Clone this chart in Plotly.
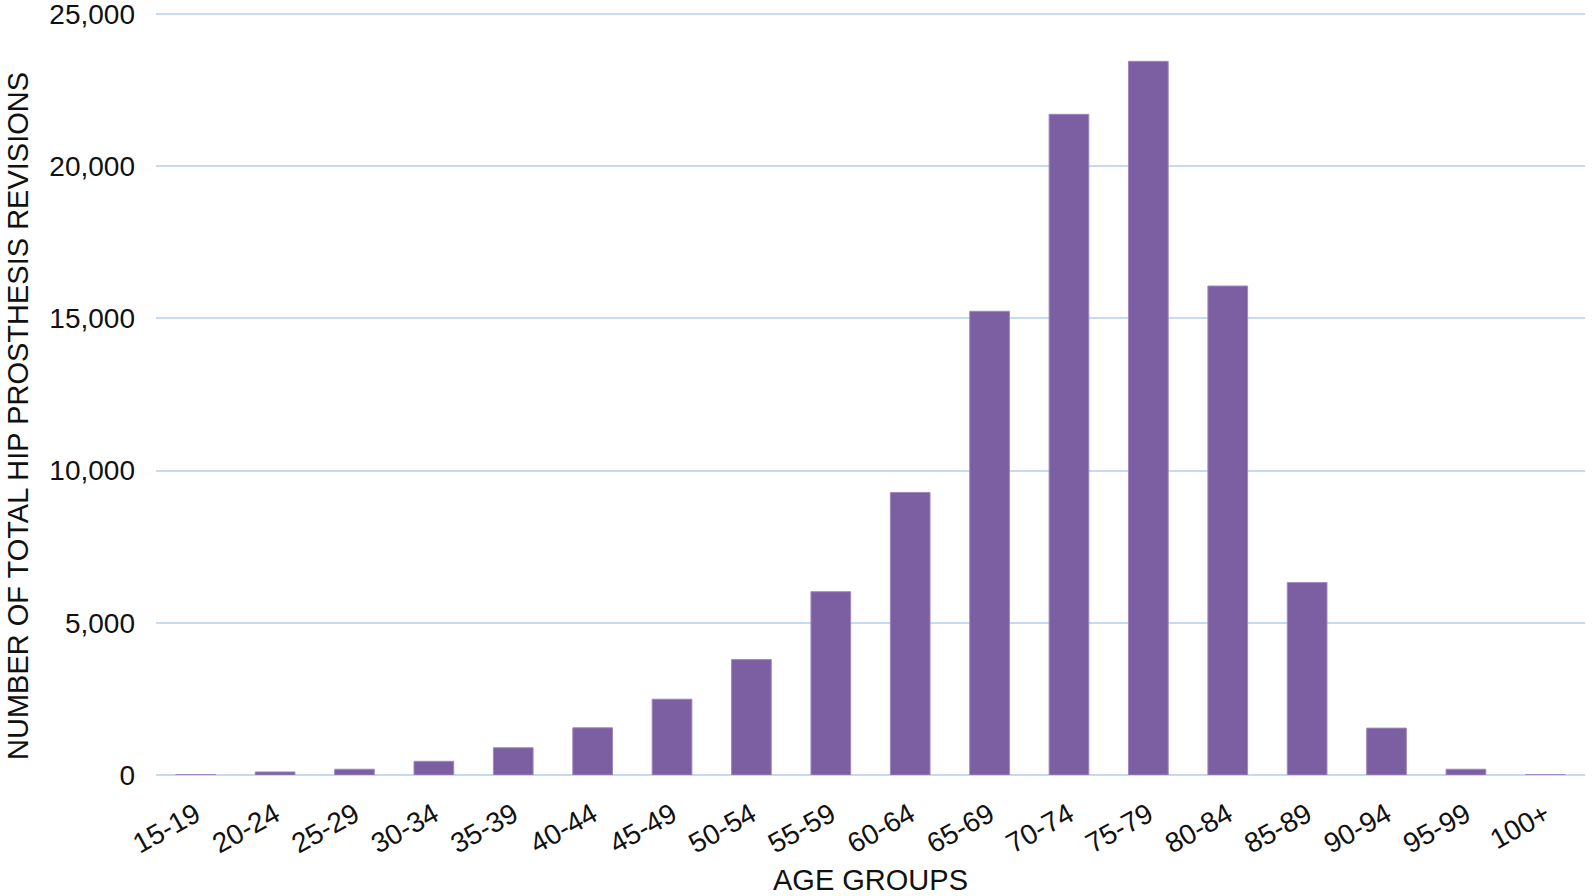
import plotly.graph_objects as go

age_groups = ["15-19", "20-24", "25-29", "30-34", "35-39", "40-44", "45-49", "50-54",
              "55-59", "60-64", "65-69", "70-74", "75-79", "80-84", "85-89", "90-94",
              "95-99", "100+"]
revisions = [15, 100, 190, 450, 895, 1550, 2490, 3790, 6020, 9280, 15230, 21700,
             23440, 16060, 6320, 1540, 190, 10]
y_ticks = [0, 5000, 10000, 15000, 20000, 25000]

W, H = 1593, 896
plot_left, plot_right, plot_top, plot_bottom = 156, 1585, 12, 775  # page px
L, T = plot_left, plot_top
R, B = W - plot_right, H - plot_bottom
plot_w = plot_right - plot_left
plot_h = plot_bottom - plot_top

fig = go.Figure()
fig.add_trace(go.Bar(
    x=age_groups, y=revisions,
    marker=dict(color="#7c5fa2", line=dict(color="#9d89bd", width=1)),
    showlegend=False,
))

font_family = "Liberation Sans, Arial, sans-serif"

fig.update_layout(
    width=W, height=H,
    margin=dict(l=L, r=R, t=T, b=B, autoexpand=False),
    paper_bgcolor="white", plot_bgcolor="white",
    bargap=0.5,
    font=dict(family=font_family, size=28, color="#111111"),
    xaxis=dict(
        type="category", tickangle=-29, showgrid=False, showline=False,
        ticks="", tickfont=dict(size=28), ticklabelstandoff=17,
    ),
    yaxis=dict(
        range=[0, 25060], tickvals=y_ticks, tickformat=",",
        showgrid=True, gridcolor="#c6daf0", gridwidth=2,
        zeroline=True, zerolinecolor="#c6daf0", zerolinewidth=2,
        showline=False, ticks="", ticklabelstandoff=20,
        ticklabeloverflow="allow",
        tickfont=dict(size=28),
    ),
    annotations=[
        dict(text="NUMBER OF TOTAL HIP PROSTHESIS REVISIONS", textangle=-90,
             xref="paper", yref="paper",
             x=(18 - plot_left) / plot_w, y=(plot_bottom - 416) / plot_h,
             xanchor="center", yanchor="middle", showarrow=False,
             font=dict(size=29)),
        dict(text="AGE GROUPS", xref="paper", yref="paper",
             x=0.5, y=(plot_bottom - 880) / plot_h,
             xanchor="center", yanchor="middle", showarrow=False,
             font=dict(size=29)),
    ],
)

fig.write_html("out.html", config={"displayModeBar": False},
               post_script="document.body.style.margin='0';")
